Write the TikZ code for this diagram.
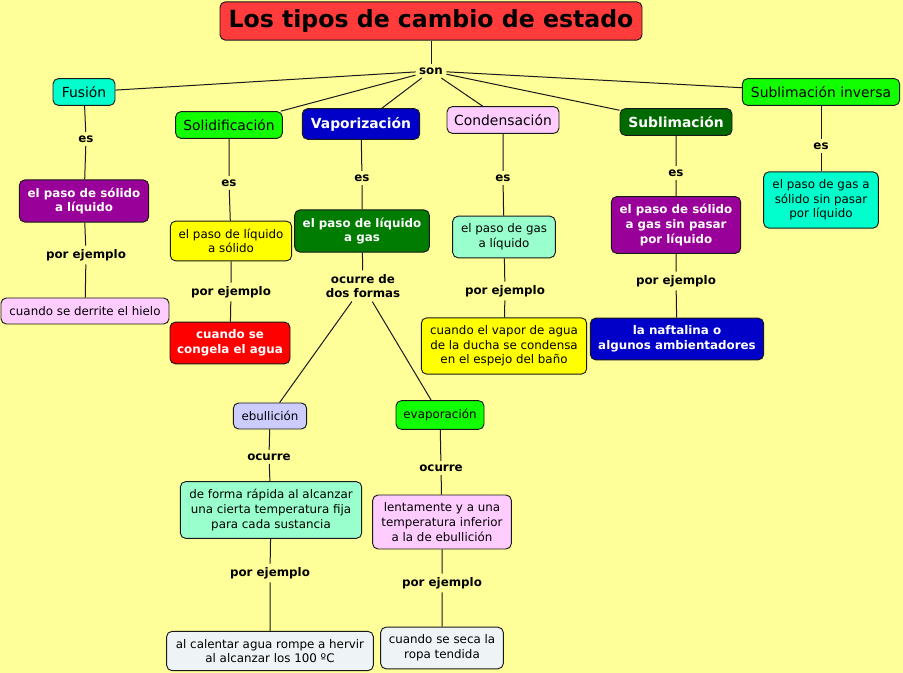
\documentclass[tikz,border=0pt]{standalone}
\usepackage{fontspec}
\setmainfont{DejaVu Sans}
\usetikzlibrary{positioning}
\definecolor{mapbg}{HTML}{FFFF99}
\definecolor{titlered}{HTML}{FF3B3B}
\definecolor{aqua}{HTML}{00FFCC}
\definecolor{lime}{HTML}{11FF00}
\definecolor{navy}{HTML}{0000C8}
\definecolor{rosa}{HTML}{FFCCFF}
\definecolor{forest}{HTML}{006A00}
\definecolor{leaf}{HTML}{007C00}
\definecolor{violet}{HTML}{990099}
\definecolor{mint}{HTML}{99FFCC}
\definecolor{lemon}{HTML}{FFFF00}
\definecolor{lavender}{HTML}{CCCCFF}
\definecolor{mist}{HTML}{EEF3F6}
\tikzset{
	concept/.style={draw=black!90, line width=0.7pt, rounded corners=4pt, align=center,
		inner xsep=5pt, inner ysep=5.8pt, minimum height=19.5pt, font=\fontsize{8.9}{11}\selectfont}
}
\tikzset{
	boldconcept/.style={concept, text=white, font=\fontsize{8.9}{11}\selectfont\bfseries}
}
\tikzset{
	bigtext/.style={font=\fontsize{10.4}{12.5}\selectfont},
	bigbold/.style={font=\fontsize{10.4}{12.5}\selectfont\bfseries}
}
\tikzset{
	linkword/.style={font=\fontsize{8.9}{11}\selectfont\bfseries, align=center, inner sep=2.5pt},
	link/.style={draw=black!90, line width=0.75pt}
}
\begin{document}
\begin{tikzpicture}[x=0.75pt, y=-0.75pt]
      \fill[mapbg] (0,0) rectangle (903,673);
      \useasboundingbox (0,0) rectangle (903,673);
      % title and first level
      \node[concept, fill=titlered, minimum width=316.5pt, minimum height=28.5pt, font=\fontsize{17.7}{20}\selectfont\bfseries] (title) at (431,21) {Los tipos de cambio de estado};
      \node[linkword] (son) at (431,71) {son};
      \node[concept, bigtext, fill=aqua, minimum width=46.5pt] (fusion) at (84,92) {Fusión};
      \node[concept, bigtext, fill=lime, minimum width=80pt] (solid) at (229,125) {Solidificación};
      \node[boldconcept, bigbold, fill=navy, minimum width=88pt, minimum height=23pt] (vapor) at (361,124) {Vaporización};
      \node[concept, bigtext, fill=rosa, minimum width=84pt] (conden) at (503,120) {Condensación};
      \node[boldconcept, bigbold, fill=forest, minimum width=84pt, minimum height=20pt] (sublim) at (676,122) {Sublimación};
      \node[concept, bigtext, fill=lime, minimum width=118pt] (subinv) at (821,92) {Sublimación inversa};
      % fusion
      \node[linkword] (es1) at (86,139) {es};
      \node[boldconcept, fill=violet, minimum width=97pt] (pasoSL) at (84,201) {el paso de sólido\\a líquido};
      \node[linkword] (pe1) at (86,255) {por ejemplo};
      \node[concept, fill=rosa, minimum width=126pt] (hielo) at (85,311) {cuando se derrite el hielo};
      % solidificacion
      \node[linkword] (es2) at (229,183) {es};
      \node[concept, fill=lemon, minimum width=91pt] (pasoLS) at (231,241) {el paso de líquido\\a sólido};
      \node[linkword] (pe2) at (231,292) {por ejemplo};
      \node[boldconcept, fill=red, minimum width=90pt] (congela) at (230,343) {cuando se\\congela el agua};
      % vaporizacion
      \node[linkword] (es3) at (362,178) {es};
      \node[boldconcept, fill=leaf, minimum width=101pt] (pasoLG) at (362,231) {el paso de líquido\\a gas};
      \node[linkword] (formas) at (363,286) {ocurre de\\dos formas};
      \node[concept, fill=lavender, minimum width=55pt] (ebull) at (270,416) {ebullición};
      \node[concept, fill=lime, minimum width=66pt, minimum height=21.5pt] (evap) at (440,415) {evaporación};
      \node[linkword] (oc1) at (269,457) {ocurre};
      \node[concept, fill=mint, minimum width=136pt] (rapida) at (271,510) {de forma rápida al alcanzar\\una cierta temperatura fija\\para cada sustancia};
      \node[linkword] (pe5) at (270,573) {por ejemplo};
      \node[concept, fill=mist, minimum width=155pt] (hervir) at (270,651) {al calentar agua rompe a hervir\\al alcanzar los 100 ºC};
      \node[linkword] (oc2) at (441,468) {ocurre};
      \node[concept, fill=rosa, minimum width=104pt] (lento) at (442,522) {lentamente y a una\\temperatura inferior\\a la de ebullición};
      \node[linkword] (pe6) at (442,583) {por ejemplo};
      \node[concept, fill=mist, minimum width=92pt] (ropa) at (442,648) {cuando se seca la\\ropa tendida};
      % condensacion
      \node[linkword] (es4) at (503,178) {es};
      \node[concept, fill=mint, minimum width=77pt] (pasoGL) at (504,237) {el paso de gas\\a líquido};
      \node[linkword] (pe3) at (505,291) {por ejemplo};
      \node[concept, fill=lemon, minimum width=124pt] (espejo) at (504,346) {cuando el vapor de agua\\de la ducha se condensa\\en el espejo del baño};
      % sublimacion
      \node[linkword] (es5) at (676,173) {es};
      \node[boldconcept, fill=violet, minimum width=97pt] (pasoSG) at (676,225) {el paso de sólido\\a gas sin pasar\\por líquido};
      \node[linkword] (pe4) at (676,281) {por ejemplo};
      \node[boldconcept, fill=navy, minimum width=130pt] (naftalina) at (677,339) {la naftalina o\\algunos ambientadores};
      % sublimacion inversa
      \node[linkword] (es6) at (821,146) {es};
      \node[concept, fill=aqua, minimum width=86pt] (pasoGS) at (821,200) {el paso de gas a\\sólido sin pasar\\por líquido};
      % connectors
      \draw[link] (title) -- (son);
      \foreach \kind in {fusion, solid, vapor, conden, sublim, subinv}
        \draw[link] (son) -- (\kind);
      \draw[link] (fusion) -- (es1) -- (pasoSL) -- (pe1) -- (hielo);
      \draw[link] (solid) -- (es2) -- (pasoLS) -- (pe2) -- (congela);
      \draw[link] (vapor) -- (es3) -- (pasoLG) -- (formas);
      \draw[link] (formas) -- (ebull) -- (oc1) -- (rapida) -- (pe5) -- (hervir);
      \draw[link] (formas) -- (evap) -- (oc2) -- (lento) -- (pe6) -- (ropa);
      \draw[link] (conden) -- (es4) -- (pasoGL) -- (pe3) -- (espejo);
      \draw[link] (sublim) -- (es5) -- (pasoSG) -- (pe4) -- (naftalina);
      \draw[link] (subinv) -- (es6) -- (pasoGS);
    \end{tikzpicture}
\end{document}
